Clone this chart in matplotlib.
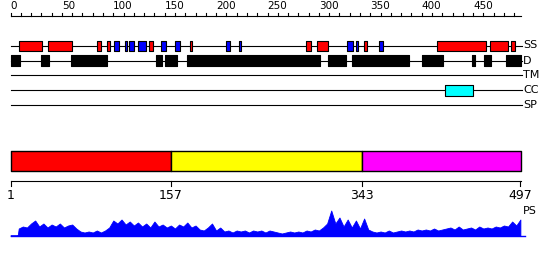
import matplotlib
matplotlib.use("Agg")
import matplotlib.pyplot as plt
import numpy as np

# sequence length and features (residue ranges)
seq_len = 497
ss_helix = [(8, 31), (36, 60), (84, 88), (94, 97), (135, 139), (175, 177),
            (287, 292), (298, 309), (344, 347), (415, 463), (466, 484), (487, 491)]
ss_strand = [(101, 106), (111, 113), (115, 120), (124, 132), (146, 151), (160, 165),
             (210, 214), (222, 224), (327, 333), (336, 338), (358, 362)]
disorder = [(0, 9), (30, 37), (59, 94), (142, 147), (150, 162), (172, 301),
            (309, 326), (332, 388), (400, 421), (449, 452), (461, 467), (482, 497)]
coiled_coil = [(423, 450)]
track_names = ["SS", "D", "TM", "CC", "SP"]

domain_bounds = [1, 157, 343, 497]
domain_colors = ["#ff0000", "#ffff00", "#ff00ff"]

# PS profile, sampled roughly every 4 residues
ps_pos = np.r_[0, 7, np.arange(8, 500, 4)]
ps_val = [0, 0, 7, 9, 8, 12, 15, 9, 12, 8,
          11, 9, 12, 8, 10, 11, 7, 4, 3, 4,
          3, 5, 3, 5, 8, 15, 12, 16, 11, 14,
          10, 13, 9, 12, 8, 14, 9, 11, 8, 10,
          7, 11, 9, 13, 8, 10, 6, 5, 8, 12,
          5, 8, 4, 5, 3, 5, 4, 5, 3, 5,
          4, 5, 3, 5, 4, 3, 2, 3, 4, 3,
          4, 3, 5, 4, 6, 5, 8, 12, 25, 12,
          18, 9, 16, 8, 15, 7, 17, 6, 4, 3,
          4, 3, 5, 3, 4, 5, 4, 5, 4, 6,
          5, 6, 5, 7, 5, 6, 7, 8, 6, 9,
          6, 7, 8, 6, 9, 7, 8, 7, 9, 8,
          10, 9, 14, 10, 16]

W, H = 550, 260
fig = plt.figure(figsize=(W / 100, H / 100), dpi=100)
ax = fig.add_axes([0, 0, 1, 1])
scale = 1.028
x0 = 10.5
ax.set_xlim(-x0 / scale, (W - x0) / scale)
ax.set_ylim(H, 0)
ax.axis("off")

lw = 0.8

# top ruler
ax.plot([0, seq_len], [15.5, 15.5], color="black", lw=lw)
for t in range(0, seq_len, 10):
    ax.plot([t, t], [15.5, 12.5], color="black", lw=lw)
for t in range(0, seq_len, 50):
    ax.text(t, 11, str(t), ha="left", va="bottom", family="DejaVu Sans", fontsize=7.5)

# feature tracks
track_y = [45.5, 60.5, 75, 90, 105]
for name, y in zip(track_names, track_y):
    ax.plot([0, seq_len + 1], [y, y], color="black", lw=lw)
    ax.text(seq_len + 1.5, y, name, ha="left", va="center", family="DejaVu Sans", fontsize=8)

def bars(ranges, y, h, color):
    ax.broken_barh([(s, e - s) for s, e in ranges], (y - h / 2, h),
                   facecolors=color, edgecolors="black", linewidth=lw, zorder=3)

bars(ss_helix, track_y[0], 10, "#ff0000")
bars(ss_strand, track_y[0], 10, "#0000ff")
bars(disorder, track_y[1], 11, "black")
bars(coiled_coil, track_y[3], 11, "#00ffff")

# domain bar
for i, c in enumerate(domain_colors):
    s, e = domain_bounds[i], domain_bounds[i + 1]
    ax.broken_barh([(s - 1, e - s + (1 if i == len(domain_colors) - 1 else 0))],
                   (150.5, 20.5), facecolors=c, edgecolors="black", linewidth=1.0)

# lower ruler
ax.plot([0, seq_len], [181, 181], color="black", lw=lw)
for b in domain_bounds:
    ax.plot([b - 1, b - 1], [181, 186], color="black", lw=lw)
    ax.text(b - 1, 189, str(b), ha="center", va="top", family="DejaVu Sans", fontsize=9)

# PS profile
base = 235.5
ps_y = base - np.array(ps_val, dtype=float)
ax.fill_between(ps_pos, ps_y, base, color="#0000ff", lw=0.6, edgecolor="#0000ff")
ax.plot([0, seq_len + 3], [base, base], color="#0000ff", lw=1.0)
ax.text(seq_len + 1.5, 211, "PS", ha="left", va="center", family="DejaVu Sans", fontsize=8)

fig.savefig("out.png", dpi=100)
